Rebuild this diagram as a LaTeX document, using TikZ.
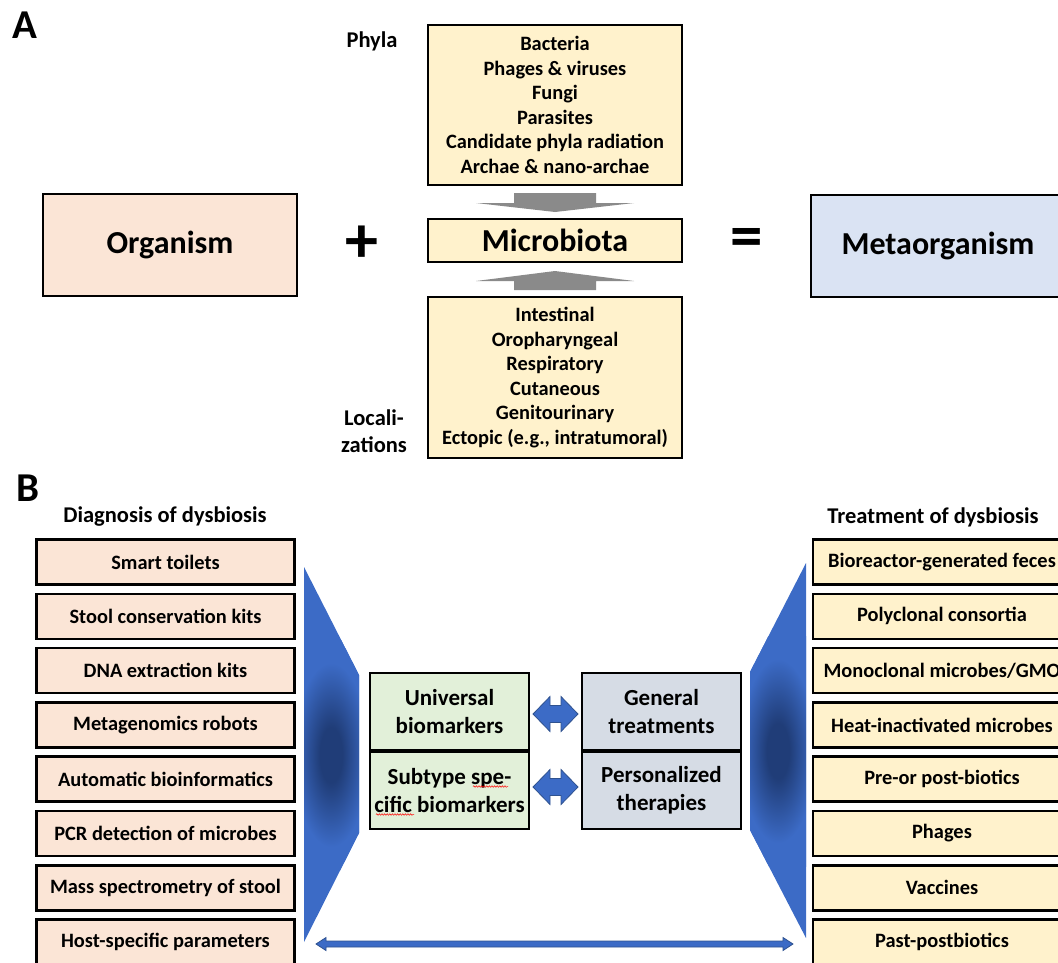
\documentclass[tikz,border=0pt]{standalone}
\usepackage{fontspec}
\setmainfont{Carlito}
\usetikzlibrary{calc,decorations.pathmorphing}
\definecolor{peach}{HTML}{FBE5D6}
\definecolor{cream}{HTML}{FFF2CC}
\definecolor{lblue}{HTML}{DAE3F3}
\definecolor{lgreen}{HTML}{E2F0D9}
\definecolor{lgray}{HTML}{D6DCE5}
\definecolor{bmid}{HTML}{3C6BC6}
\definecolor{bdark}{HTML}{203D78}
\definecolor{bedge}{HTML}{2F528F}
\definecolor{garrow}{HTML}{8A8A8A}
\pgfdeclareradialshading{funnelshade}{\pgfpoint{0bp}{0bp}}{%
  color(0bp)=(bdark); color(6bp)=(bdark); color(13bp)=(bdark!50!bmid);
  color(20bp)=(bmid); color(25bp)=(bmid); color(50bp)=(bmid)}
\begin{document}
\begin{tikzpicture}[x=1pt,y=-1pt,
  box/.style={draw=black, line width=2.6pt, inner sep=0pt, align=center,
    font=\bfseries\fontsize{20.4}{24.6}\selectfont},
  bigbox/.style={box, font=\bfseries\fontsize{32}{32}\selectfont},
  listbox/.style={box, minimum width=258pt, minimum height=45pt},
  midbox/.style={box, minimum width=159pt, minimum height=77pt,
    font=\bfseries\fontsize{23}{28}\selectfont},
  lbl/.style={inner sep=0pt, align=center, font=\bfseries\fontsize{22.5}{27}\selectfont},
  panel/.style={inner sep=0pt, font=\bfseries\fontsize{41}{41}\selectfont},
  grayarrow/.style={fill=garrow, draw=none},
  bluearrow/.style={fill=bmid, draw=bedge, line width=0.8pt},
  dblarrow/.pic={\path[bluearrow] (-22.5,0) -- (-5.5,-17.5) -- (-5.5,-8.5) -- (5.5,-8.5) -- (5.5,-17.5)
      -- (22.5,0) -- (5.5,17.5) -- (5.5,8.5) -- (-5.5,8.5) -- (-5.5,17.5) -- cycle;},
  squiggle/.style={draw=red, line width=0.5pt, decorate,
    decoration={snake, amplitude=0.8pt, segment length=2.6pt}}
]
\useasboundingbox (0,0) rectangle (1058,962);
\clip (0,0) rectangle (1058,962);

% ---------- Panel A ----------
\node[panel] (pA) at (25,25) {A};

\node[box, fill=cream, minimum width=254pt, minimum height=160pt] (phyla) at (555,105)
  {Bacteria\\Phages \& viruses\\Fungi\\Parasites\\Candidate phyla radiation\\Archae \& nano-archae};
\node[lbl] (phylalbl) at (372,41) {Phyla};

\node[bigbox, fill=cream, minimum width=254pt, minimum height=43pt] (micro) at (555,240.5) {Microbiota};

\node[box, fill=cream, minimum width=254pt, minimum height=161pt] (loc) at (555,377.5)
  {Intestinal\\Oropharyngeal\\Respiratory\\Cutaneous\\Genitourinary\\Ectopic (e.g., intratumoral)};
\node[lbl] (loclbl) at (374,431.5) {Locali-\\zations};

\node[bigbox, fill=peach, minimum width=254pt, minimum height=102pt] (org) at (170,245) {Organism};
\node[bigbox, fill=lblue, minimum width=254pt, minimum height=102pt] (meta) at (938,246) {Metaorganism};

\node[inner sep=0pt, font=\bfseries\fontsize{66}{66}\selectfont] (plus) at (362,244) {+};
\node[inner sep=0pt, font=\bfseries\fontsize{65}{65}\selectfont] (eq) at (746.5,242.5) {=};

% gray block arrows
\coordinate (da) at ($(phyla.south)!0.5!(micro.north)$);
\path[grayarrow] (da) ++(-41,-9) -- ++(82,0) -- ++(0,10) -- ++(38,0) -- ++(-79,9)
   -- ++(-79,-9) -- ++(38,0) -- cycle;
\coordinate (ua) at ($(micro.south)!0.5!(loc.north)$);
\path[grayarrow] (ua) ++(-41,10.5) -- ++(0,-9) -- ++(-38,0) -- ++(79,-10) -- ++(79,10)
   -- ++(-38,0) -- ++(0,9) -- cycle;

% ---------- Panel B ----------
\node[panel] (pB) at (28,488) {B};
\node[lbl] (diag) at (165,517) {Diagnosis of dysbiosis};
\node[lbl] (treat) at (933,517) {Treatment of dysbiosis};

\foreach \t [count=\i from 0] in {Smart toilets, Stool conservation kits, DNA extraction kits,
   Metagenomics robots, Automatic bioinformatics, PCR detection of microbes,
   Mass spectrometry of stool, Host-specific parameters}
  \node[listbox, fill=peach] (d\i) at (165.5, 562+54.3*\i) {\t};

\foreach \t [count=\i from 0] in {Bioreactor-generated feces, Polyclonal consortia,
   Monoclonal microbes/GMO, Heat-inactivated microbes, Pre-or post-biotics,
   Phages, Vaccines, Past-postbiotics}
  \node[listbox, fill=cream] (t\i) at (942, 562+54.3*\i) {\t};

% funnels
\begin{scope}
  \path[clip] (304,567) -- (359,675) -- (359,833) -- (304,942) -- cycle;
  \fill[bmid] (300,560) rectangle (365,950);
  \shade[shading=funnelshade] (284,640) rectangle (378,870);
\end{scope}
\begin{scope}
  \path[clip] (806,563) -- (750,672) -- (750,830) -- (806,938) -- cycle;
  \fill[bmid] (745,555) rectangle (810,945);
  \shade[shading=funnelshade] (731,636) rectangle (825,866);
\end{scope}

% middle boxes
\node[midbox, fill=lgreen] (univ) at (449.5,711.5) {Universal\\biomarkers};
\node[midbox, fill=lgreen] (subt) at (449.5,790.5) {Subtype spe-\\cific biomarkers};
\node[midbox, fill=lgray] (gen) at (661.5,711.5) {General\\treatments};
\node[midbox, fill=lgray] (pers) at (661.5,790.5) {Personalized\\therapies};

\path[squiggle] (473,786.5) -- (508,786.5);
\path[squiggle] (376,814.5) -- (414,814.5);

\pic at ($($(univ.east)!0.5!(gen.west)$)+(0,2.5)$) {dblarrow};
\pic at ($($(subt.east)!0.5!(pers.west)$)+(0,-3.5)$) {dblarrow};

% bottom long double arrow
\coordinate (la) at (316,944);
\coordinate (ra) at (793,944);
\path[bluearrow] (la) -- ++(10,-6.5) -- ++(0,3.5) -- ($(ra)+(-10,-3)$) -- ++(0,-3.5) -- (ra)
   -- ++(-10,6.5) -- ++(0,-3.5) -- ($(la)+(10,3)$) -- ++(0,3.5) -- cycle;
\end{tikzpicture}
\end{document}
